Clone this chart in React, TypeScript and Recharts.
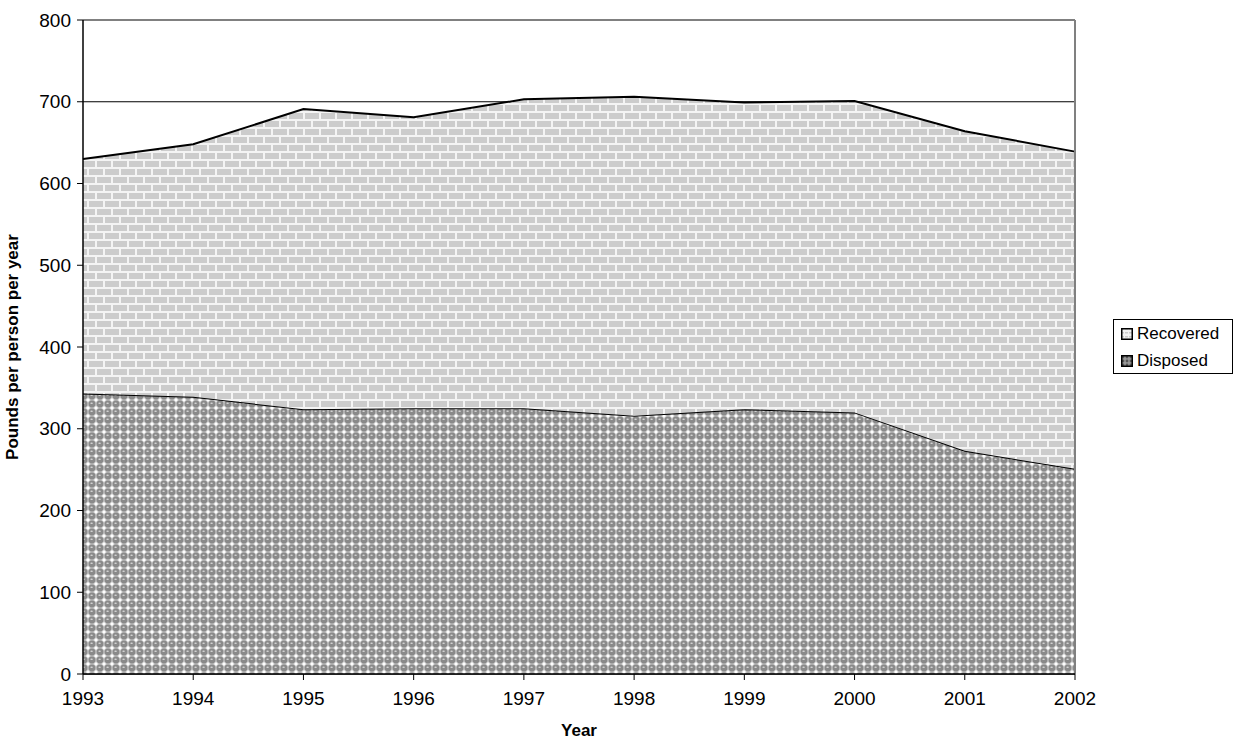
import React from "react";
import {
  AreaChart,
  Area,
  XAxis,
  YAxis,
  CartesianGrid,
  ReferenceLine,
} from "recharts";

const years = ["1993", "1994", "1995", "1996", "1997", "1998", "1999", "2000", "2001", "2002"];
const disposed = [343, 339, 324, 325, 325, 316, 324, 320, 273, 251];
const recovered = [287, 309, 367, 356, 378, 390, 375, 381, 391, 388];
const yTicks = [0, 100, 200, 300, 400, 500, 600, 700, 800];

const data = years.map((year, i) => ({
  year,
  disposed: disposed[i],
  recovered: recovered[i],
}));

const FONT = "Arial, 'Liberation Sans', sans-serif";

function Patterns() {
  return (
    <defs>
      <pattern id="brick" width="16" height="16" patternUnits="userSpaceOnUse">
        <rect width="16" height="16" fill="#f4f4f4" />
        <rect x="1" y="1" width="14" height="6" fill="#cccccc" />
        <rect x="9" y="9" width="14" height="6" fill="#cccccc" />
        <rect x="-7" y="9" width="14" height="6" fill="#cccccc" />
      </pattern>
      <pattern id="dots" width="8" height="8" patternUnits="userSpaceOnUse">
        <rect width="8" height="8" fill="#c4c4c4" />
        <rect x="-1.5" y="-1.5" width="3" height="3" fill="#ffffff" />
        <rect x="6.5" y="-1.5" width="3" height="3" fill="#ffffff" />
        <rect x="-1.5" y="6.5" width="3" height="3" fill="#ffffff" />
        <rect x="6.5" y="6.5" width="3" height="3" fill="#ffffff" />
        <circle cx="4" cy="4" r="3.4" fill="#8a8a8a" />
        <ellipse cx="3.6" cy="3.2" rx="1.3" ry="0.8" fill="#d6d6d6" />
      </pattern>
    </defs>
  );
}

function LegendBox() {
  const items = [
    { label: "Recovered", fill: "url(#brickLegend)" },
    { label: "Disposed", fill: "url(#dotsLegend)" },
  ];
  return (
    <div
      style={{
        position: "absolute",
        left: 1113,
        top: 319,
        width: 118,
        height: 53,
        border: "1px solid #000",
        background: "#fff",
        fontFamily: FONT,
        fontSize: 17,
        color: "#000",
        boxSizing: "content-box",
      }}
    >
      <svg width="0" height="0" style={{ position: "absolute" }}>
        <defs>
          <pattern id="brickLegend" width="4" height="4" patternUnits="userSpaceOnUse">
            <rect width="4" height="4" fill="#f4f4f4" />
            <rect x="0" y="0" width="3" height="1.5" fill="#cccccc" />
          </pattern>
          <pattern id="dotsLegend" width="4" height="4" patternUnits="userSpaceOnUse">
            <rect width="4" height="4" fill="#999" />
            <circle cx="2" cy="2" r="1.4" fill="#555" />
          </pattern>
        </defs>
      </svg>
      {items.map((it, i) => (
        <div
          key={it.label}
          style={{
            position: "absolute",
            left: 7,
            top: 3 + i * 27,
            height: 22,
            display: "flex",
            alignItems: "center",
            lineHeight: "22px",
            whiteSpace: "nowrap",
          }}
        >
          <svg width="12" height="12" style={{ marginRight: 4 }}>
            <rect x="0.75" y="0.75" width="10.5" height="10.5" fill={it.fill} stroke="#000" strokeWidth="1.5" />
          </svg>
          <span>{it.label}</span>
        </div>
      ))}
    </div>
  );
}

export default function App() {
  return (
    <div
      style={{
        position: "absolute",
        left: 0,
        top: 0,
        width: 1238,
        height: 740,
        background: "#fff",
      }}
    >
      <AreaChart
        width={1238}
        height={740}
        data={data}
        margin={{ top: 20, right: 163, left: 0, bottom: 0 }}
      >
        <Patterns />
        <CartesianGrid vertical={false} horizontal stroke="#000" strokeWidth={1} />
        <XAxis
          dataKey="year"
          height={66}
          tickLine={{ stroke: "#000" }}
          axisLine={{ stroke: "#000", strokeWidth: 1.5 }}
          tickSize={6}
          tick={{ fill: "#000", fontSize: 19, fontFamily: FONT }}
          tickMargin={12}
          interval={0}
          label={{
            value: "Year",
            position: "insideBottom",
            offset: 4,
            style: { fontFamily: FONT, fontSize: 17, fontWeight: "bold", fill: "#000" },
          }}
        />
        <YAxis
          width={83}
          domain={[0, 800]}
          ticks={yTicks}
          tickLine={{ stroke: "#000" }}
          axisLine={{ stroke: "#000", strokeWidth: 1.5 }}
          tickSize={6}
          tickMargin={6}
          tick={{ fill: "#000", fontSize: 19, fontFamily: FONT }}
          label={{
            value: "Pounds per person per year",
            angle: -90,
            position: "insideLeft",
            offset: 12,
            style: {
              fontFamily: FONT,
              fontSize: 17,
              fontWeight: "bold",
              fill: "#000",
              textAnchor: "middle",
            },
          }}
        />
        <ReferenceLine y={800} stroke="#808080" strokeWidth={2} />
        <ReferenceLine x="2002" stroke="#808080" strokeWidth={2} />
        <Area
          type="linear"
          dataKey="disposed"
          name="Disposed"
          stackId="1"
          stroke="#000"
          strokeWidth={2}
          fill="url(#dots)"
          fillOpacity={1}
          isAnimationActive={false}
        />
        <Area
          type="linear"
          dataKey="recovered"
          name="Recovered"
          stackId="1"
          stroke="#000"
          strokeWidth={2}
          fill="url(#brick)"
          fillOpacity={1}
          isAnimationActive={false}
        />
      </AreaChart>
      <LegendBox />
    </div>
  );
}
